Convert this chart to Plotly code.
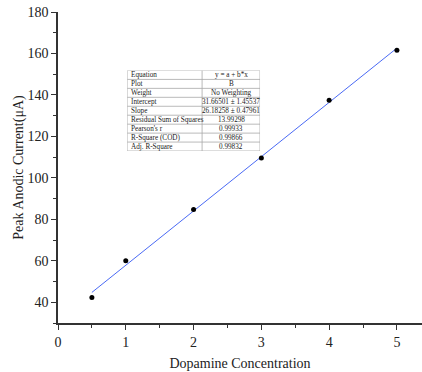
import plotly.graph_objects as go

# Measured peak anodic current vs. dopamine concentration
concentration = [0.5, 1, 2, 3, 4, 5]
peak_current = [42.3, 60.0, 84.7, 109.6, 137.4, 161.6]

# Linear fit parameters (y = a + b*x)
intercept = 31.66501
slope = 26.18258
fit_x = [0.5, 5]

# Fit summary table
table_labels = ["Equation", "Plot", "Weight", "Intercept", "Slope",
                "Residual Sum of Squares", "Pearson's r", "R-Square (COD)",
                "Adj. R-Square"]
table_values = ["y = a + b*x", "B", "No Weighting", "31.66501 ± 1.45537",
                "26.18258 ± 0.47961", "13.99298", "0.99933", "0.99866",
                "0.99832"]

font_family = "Liberation Serif, Times New Roman, serif"
axis_color = "#333333"
grid_color = "#a8a8a8"

fig = go.Figure()

fig.add_trace(go.Scatter(
    x=fit_x,
    y=[intercept + slope * v for v in fit_x],
    mode="lines",
    line=dict(color="#4a6af5", width=1),
    showlegend=False,
    hoverinfo="skip",
))

fig.add_trace(go.Scatter(
    x=concentration,
    y=peak_current,
    mode="markers",
    marker=dict(color="black", size=5),
    showlegend=False,
))

# Table drawn on its own small axis pair: column units across, row index down
n_rows = len(table_labels)
col_split = 75
col_end = 133

shapes = []
for r in range(n_rows + 1):
    shapes.append(dict(type="line", xref="x2", yref="y2",
                       x0=0, x1=col_end, y0=r, y1=r,
                       line=dict(color=grid_color, width=0.8)))
for c in (0, col_split, col_end):
    shapes.append(dict(type="line", xref="x2", yref="y2",
                       x0=c, x1=c, y0=0, y1=n_rows,
                       line=dict(color=grid_color, width=0.8)))

annotations = []
for r, (lab, val) in enumerate(zip(table_labels, table_values)):
    annotations.append(dict(xref="x2", yref="y2", x=1.5, y=r + 0.5,
                            text=lab, showarrow=False, xanchor="left",
                            yanchor="middle",
                            font=dict(family=font_family, size=7.2,
                                      color="#222222")))
    annotations.append(dict(xref="x2", yref="y2",
                            x=(col_split + col_end) / 2, y=r + 0.5,
                            text=val, showarrow=False, xanchor="center",
                            yanchor="middle",
                            font=dict(family=font_family, size=7.2,
                                      color="#222222")))

fig.update_layout(
    width=422,
    height=372,
    margin=dict(l=58, r=0, t=12, b=49),
    paper_bgcolor="white",
    plot_bgcolor="white",
    font=dict(family=font_family, size=14, color="#222222"),
    shapes=shapes,
    annotations=annotations,
    xaxis=dict(
        range=[0, 5.37],
        tick0=0,
        dtick=1,
        ticks="outside",
        ticklen=5,
        tickwidth=1.2,
        tickcolor=axis_color,
        minor=dict(dtick=0.5, ticks="outside", ticklen=3, tickwidth=1,
                   tickcolor=axis_color),
        showline=True,
        linecolor=axis_color,
        linewidth=1.6,
        showgrid=False,
        zeroline=False,
        title=dict(text="Dopamine Concentration", standoff=10,
                   font=dict(size=14)),
        tickfont=dict(size=14),
    ),
    yaxis=dict(
        range=[30, 180],
        tick0=0,
        dtick=20,
        ticks="outside",
        ticklen=5,
        tickwidth=1.2,
        tickcolor=axis_color,
        minor=dict(dtick=10, ticks="outside", ticklen=3, tickwidth=1,
                   tickcolor=axis_color),
        showline=True,
        linecolor=axis_color,
        linewidth=1.6,
        showgrid=False,
        zeroline=False,
        title=dict(text="Peak Anodic Current(μA)", standoff=1,
                   font=dict(size=14)),
        tickfont=dict(size=14),
    ),
    xaxis2=dict(domain=[0.190, 0.555], range=[0, col_end], anchor="y2",
                visible=False, fixedrange=True),
    yaxis2=dict(domain=[0.553, 0.812], range=[n_rows, 0], anchor="x2",
                visible=False, fixedrange=True),
)

fig.write_html("out.html")
